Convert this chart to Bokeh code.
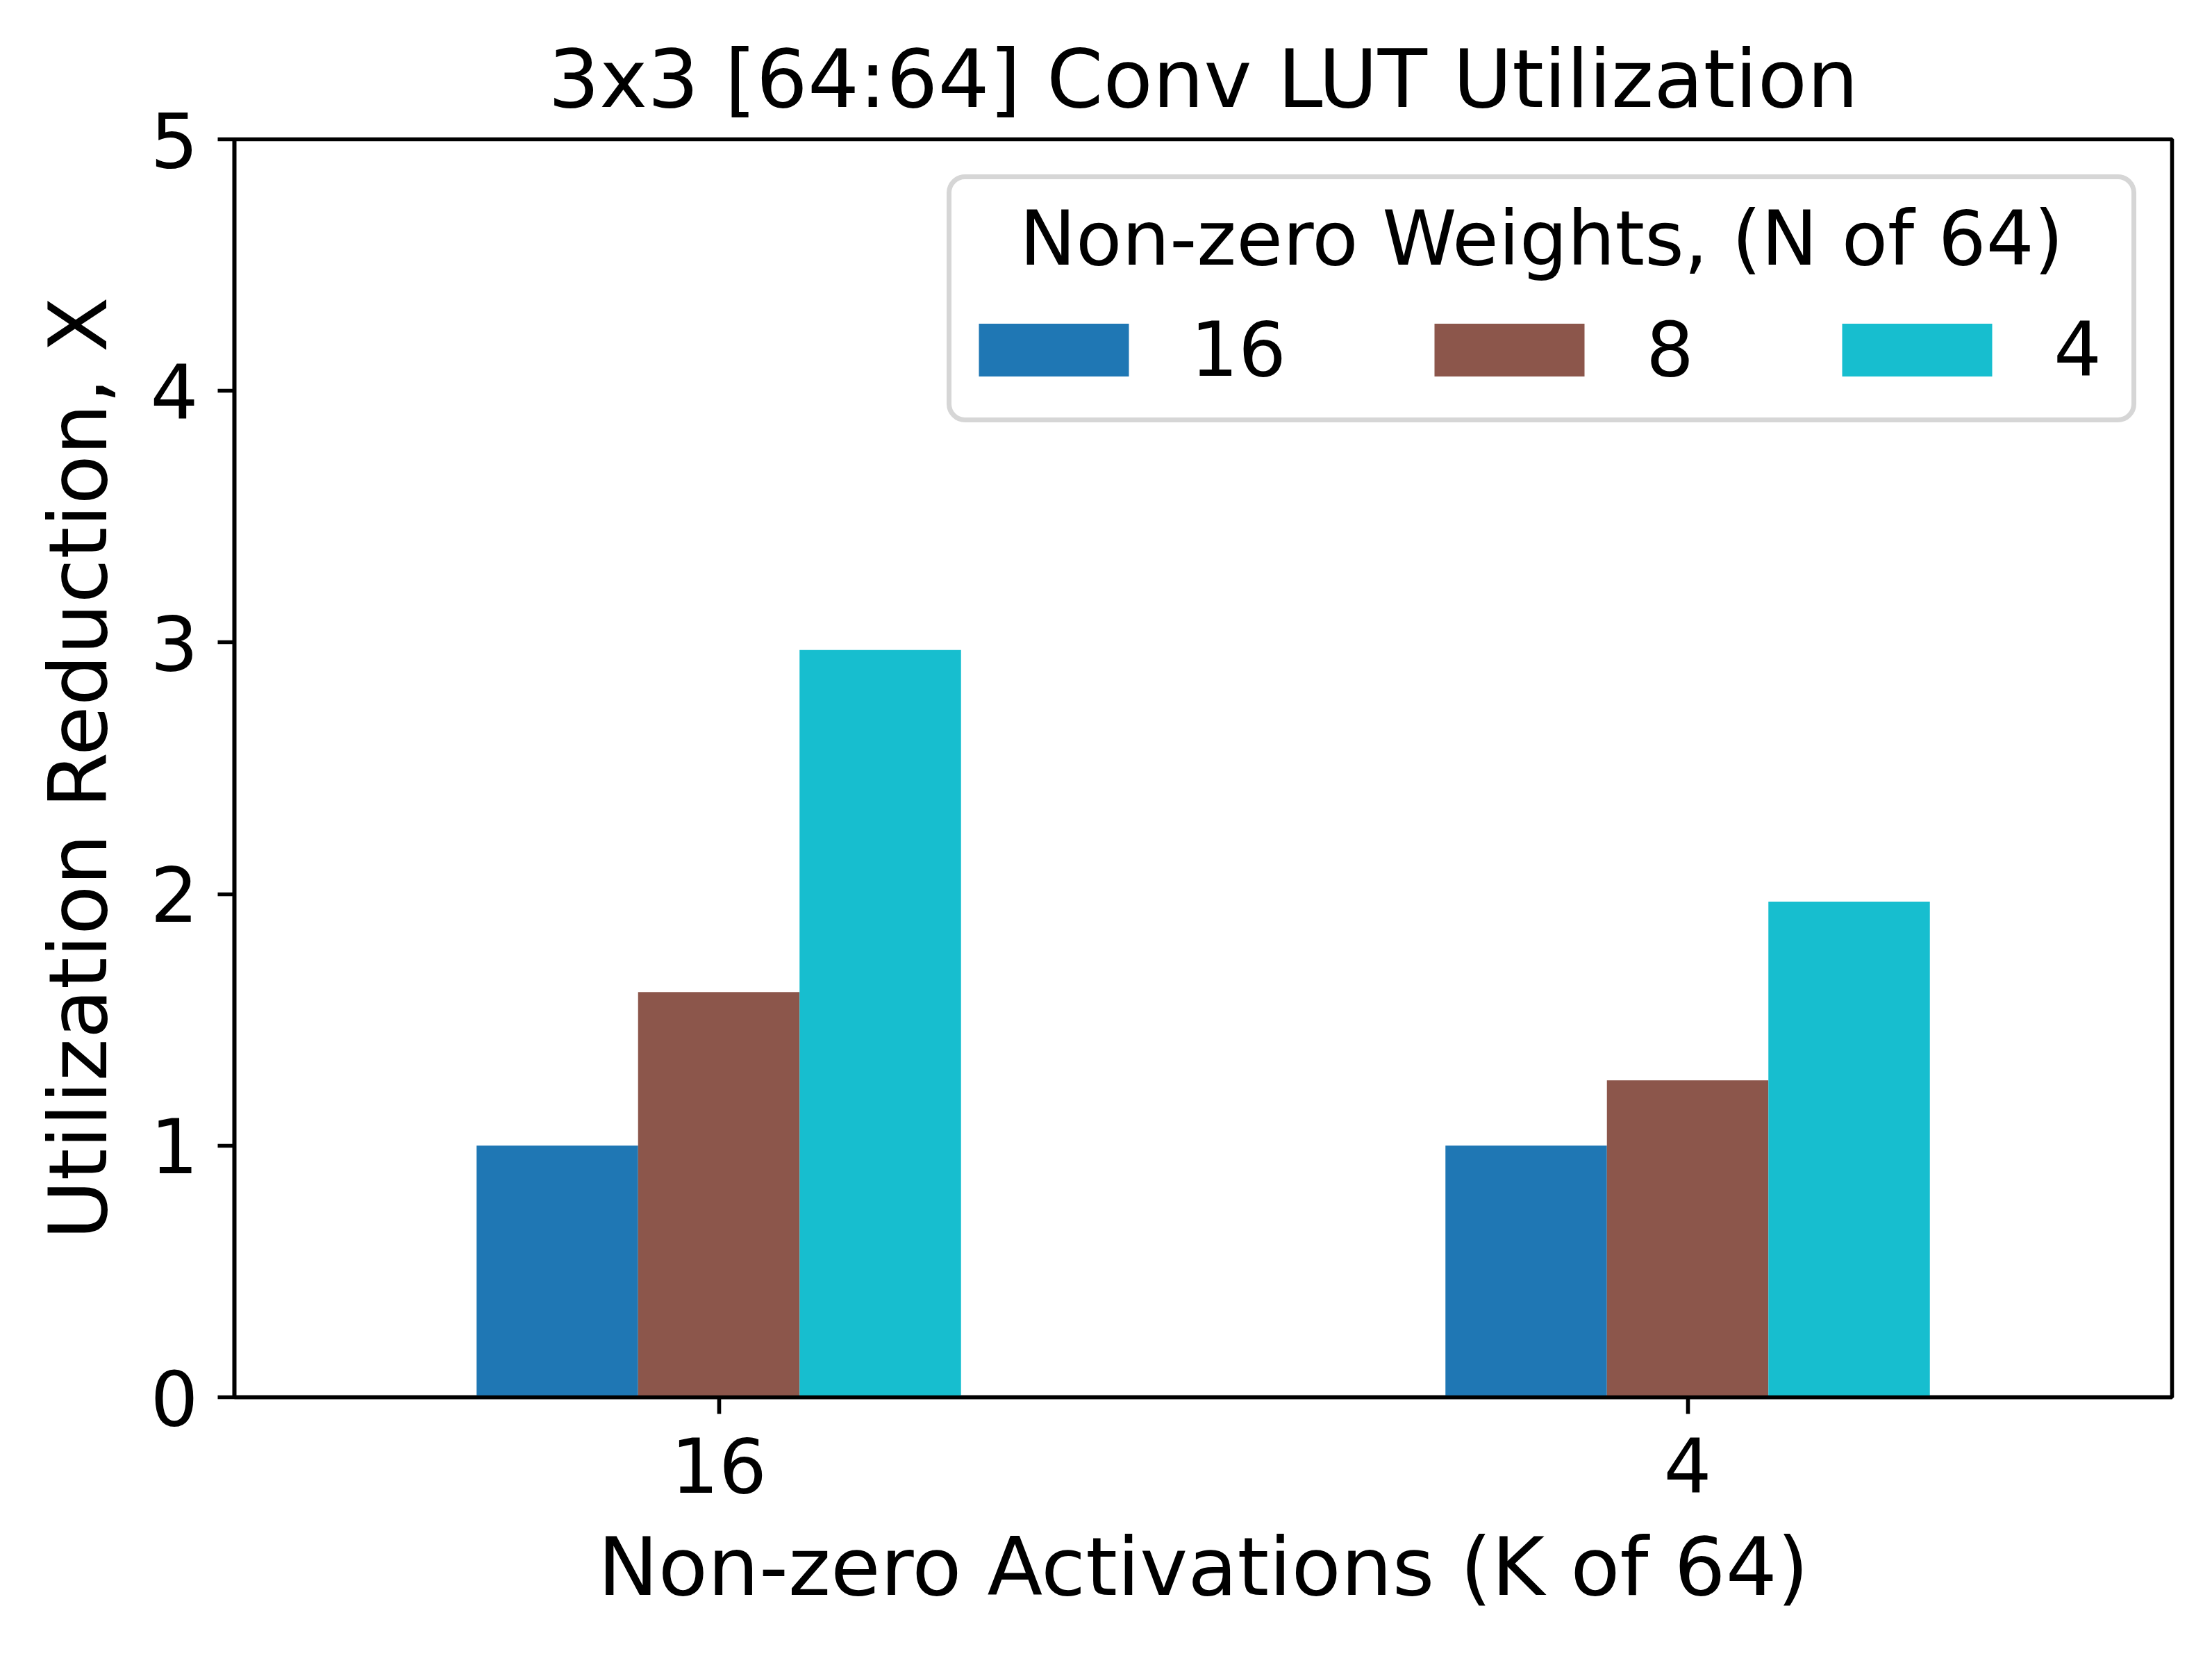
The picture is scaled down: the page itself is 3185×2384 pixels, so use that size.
from bokeh.plotting import figure
from bokeh.models import (FactorRange, Range1d, FixedTicker, Legend, LegendItem,
                          Label, BoxAnnotation, ColumnDataSource)
from bokeh.transform import dodge
from bokeh.embed import file_html
from bokeh.resources import INLINE

# ---- data ----
activations = ["16", "4"]                 # Non-zero activations (K of 64)
weight_series = ["16", "8", "4"]          # Non-zero weights (N of 64)
reduction_w16 = [1.0, 1.0]
reduction_w8 = [1.61, 1.26]
reduction_w4 = [2.97, 1.97]
colors = ["#1f77b4", "#8c564b", "#17becf"]

title_text = "3x3 [64:64] Conv LUT Utilization"
x_label = "Non-zero Activations (K of 64)"
y_label = "Utilization Reduction, X"
legend_title = "Non-zero Weights, (N of 64)"
y_ticks = [0, 1, 2, 3, 4, 5]

FONT = "DejaVu Sans"
TICK_FS = "108.5px"
LABEL_FS = "116.5px"

source = ColumnDataSource(dict(act=activations, w16=reduction_w16,
                               w8=reduction_w8, w4=reduction_w4))

FRAME_W, FRAME_H = 2790, 1811
p = figure(x_range=FactorRange(factors=activations, range_padding=0),
           y_range=Range1d(0, 5),
           frame_width=FRAME_W, frame_height=FRAME_H,
           min_border_left=337, min_border_top=200,
           min_border_right=42, min_border_bottom=357,
           output_backend="svg", toolbar_location=None,
           background_fill_color="white", border_fill_color="white")

p.title.text = title_text
p.title.align = "center"
p.title.text_font = FONT
p.title.text_font_size = LABEL_FS
p.title.text_font_style = "normal"
p.title.text_color = "black"
p.title.standoff = 39

p.outline_line_color = "black"
p.outline_line_width = 5.6
p.xgrid.visible = False
p.ygrid.visible = False

for ax in (p.xaxis[0], p.yaxis[0]):
    ax.axis_line_color = "black"
    ax.axis_line_width = 5.6
    ax.major_tick_line_color = "black"
    ax.major_tick_line_width = 5.6
    ax.major_tick_in = 0
    ax.major_tick_out = 24
    ax.minor_tick_line_color = None
    ax.major_label_text_font = FONT
    ax.major_label_text_font_size = TICK_FS
    ax.major_label_text_color = "black"
    ax.axis_label_text_font = FONT
    ax.axis_label_text_font_size = LABEL_FS
    ax.axis_label_text_font_style = "normal"
    ax.axis_label_text_color = "black"

p.xaxis.axis_label = x_label
p.yaxis.axis_label = y_label
p.yaxis.ticker = FixedTicker(ticks=y_ticks)
p.xaxis.major_label_standoff = 33
p.xaxis.axis_label_standoff = 36
p.yaxis.major_label_standoff = 28
p.yaxis.axis_label_standoff = 33

# legend frame (drawn before legend)
box_kwargs = dict(left=1029, right=2735, top=1757, bottom=1407,
                  left_units="screen", right_units="screen",
                  top_units="screen", bottom_units="screen",
                  fill_color="white", fill_alpha=1.0,
                  line_color="#d6d6d6", line_alpha=1.0, line_width=7,
                  level="annotation")
if "border_radius" in BoxAnnotation.properties():
    box_kwargs["border_radius"] = 23
p.add_layout(BoxAnnotation(**box_kwargs))

bar_w = 1.0 / 6
offsets = [-bar_w, 0.0, bar_w]
fields = ["w16", "w8", "w4"]
renderers = []
for fld, off, col in zip(fields, offsets, colors):
    r = p.vbar(x=dodge("act", off, range=p.x_range), top=fld, bottom=0,
               width=bar_w, source=source, fill_color=col, line_color=None)
    renderers.append(r)

legend = Legend(items=[LegendItem(label=lab, renderers=[r])
                       for lab, r in zip(weight_series, renderers)],
                orientation="horizontal",
                location=(1045, 1444),
                padding=0, spacing=186,
                glyph_width=270, glyph_height=95,
                label_standoff=62, label_width=0, label_height=95,
                label_text_font=FONT, label_text_font_size=TICK_FS,
                label_text_color="black",
                border_line_alpha=0, background_fill_alpha=0)
p.add_layout(legend, "center")

p.add_layout(Label(x=1882, y=1668, x_units="screen", y_units="screen",
                   text=legend_title, text_align="center",
                   text_baseline="alphabetic", text_font=FONT,
                   text_font_size=TICK_FS, text_color="black"))

open("out.html", "w").write(file_html(p, INLINE))
